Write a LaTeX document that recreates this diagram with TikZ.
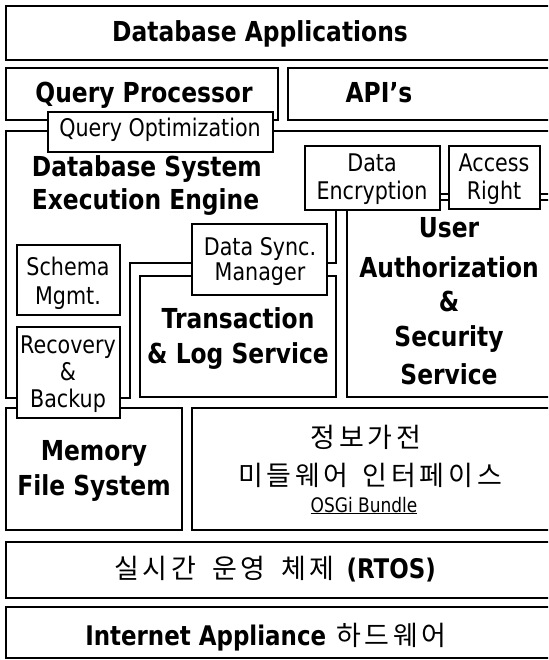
\documentclass[tikz,border=0pt]{standalone}
\usepackage{fontspec}
\setmainfont{DejaVu Sans}[FakeStretch=0.85]
\newfontfamily\kor{Noto Sans CJK KR}[LetterSpace=14]

\begin{document}
\begin{tikzpicture}[x=1pt, y=-1pt, line width=1.8pt,
    frame/.style={draw, fill=white},
    big/.style={anchor=base, inner sep=0pt, font=\fontsize{27.5}{30}\selectfont\bfseries},
    small/.style={anchor=base, inner sep=0pt, font=\fontsize{24.3}{28}\selectfont},
    hangul/.style={anchor=base, inner sep=0pt, font=\fontsize{27}{30}\selectfont\kor}]
  \useasboundingbox (0,0) rectangle (548,660);
  \clip (0,0) rectangle (548,660);

  % Application layer
  \draw[frame] (6,6) rectangle (560,60);
  \node[big] (apps) at (260,42) {Database Applications};
  \draw[frame] (6,68) rectangle (278,120);
  \node[big] (qproc) at (144,103) {Query Processor};
  \draw[frame] (288,68) rectangle (560,120);
  \node[big] (api) at (379,103) {API's};

  % Engine frame, transaction and security blocks
  \draw (6,131) -- (560,131) -- (560,194) -- (336,194) -- (336,263)
        -- (130,263) -- (130,398) -- (6,398) -- cycle;
  \draw (140,276) rectangle (336,397);
  \draw (347,200) rectangle (560,397);
  \node[big, anchor=base west] (eng1) at (31,177) {Database System};
  \node[big, anchor=base west] (eng2) at (31,210) {Execution Engine};
  \node[big] (trans1) at (238,328) {Transaction};
  \node[big] (trans2) at (238,363) {\& Log Service};
  \node[big] (auth1) at (449,237) {User};
  \node[big] (auth2) at (449,277) {Authorization};
  \node[big] (auth3) at (449,311) {\&};
  \node[big] (auth4) at (449,346) {Security};
  \node[big] (auth5) at (449,384) {Service};

  % Small boxes on the frame lines
  \draw[frame] (48,112) rectangle (273,152);
  \node[small] (qopt) at (160,137) {Query Optimization};
  \draw[frame] (305,146) rectangle (440,210);
  \node[small] (enc1) at (372,172) {Data};
  \node[small] (enc2) at (372,200) {Encryption};
  \draw[frame] (449,146) rectangle (540,209);
  \node[small] (acc1) at (494,172) {Access};
  \node[small] (acc2) at (494,200) {Right};
  \draw[frame] (192,224) rectangle (327,295);
  \node[small] (sync1) at (260,255) {Data Sync.};
  \node[small] (sync2) at (260,280) {Manager};
  \draw[frame] (17,245) rectangle (120,315);
  \node[small] (schema1) at (68,275) {Schema};
  \node[small] (schema2) at (68,304) {Mgmt.};

  % Memory file system and middleware
  \draw[frame] (6,408) rectangle (182,530);
  \node[big] (mem1) at (94,460) {Memory};
  \node[big] (mem2) at (94,495) {File System};
  \draw[frame] (192,408) rectangle (560,530);
  \node[hangul] (mid1) at (366,447) {정보가전};
  \node[hangul] (mid2) at (370,485) {미들웨어 \hspace{4pt}인터페이스};
  \node[small, font=\fontsize{20}{22}\selectfont] (osgi) at (364,512) {\underline{OSGi Bundle}};

  \draw[frame] (17,327) rectangle (120,418);
  \node[small] (rec1) at (68,353) {Recovery};
  \node[small] (rec2) at (68,380) {\&};
  \node[small] (rec3) at (68,407) {Backup};

  % OS and hardware
  \draw[frame] (6,542) rectangle (560,598);
  \node[hangul] (rtos) at (275,578) {실시간 \hspace{6pt}운영 \hspace{6pt}체제 \hspace{2pt}{\normalfont\bfseries (RTOS)}};
  \draw[frame] (6,607) rectangle (560,658);
  \node[hangul] (hw) at (266,645) {{\normalfont\bfseries Internet Appliance} 하드웨어};
\end{tikzpicture}
\end{document}
